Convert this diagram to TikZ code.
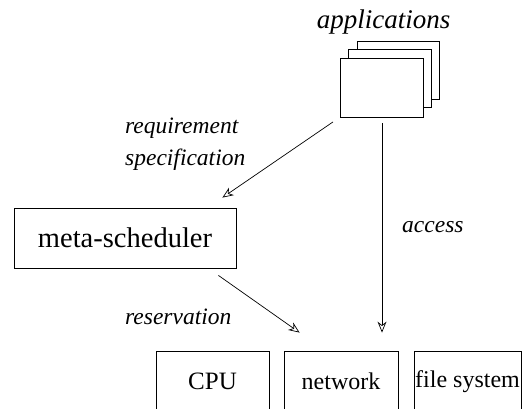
\documentclass[tikz,border=0pt]{standalone}
\usepackage{fontspec}
\setmainfont{Liberation Serif}
\usetikzlibrary{arrows.meta,calc}
\begin{document}
\begin{tikzpicture}[x=1pt,y=-1pt,
  box/.style={draw, line width=0.8pt, inner sep=0pt, fill=white},
  lab/.style={inner sep=0pt, font=\fontsize{23.5}{32}\selectfont\itshape, align=left},
  arr/.style={-{Stealth[open,length=11pt,width=9pt,inset=3.5pt]}, line width=0.7pt}]
\useasboundingbox (0,0) rectangle (522,408);
\clip (0,0) rectangle (522,408);
% applications stack
\node[box, minimum width=82pt, minimum height=58pt] (back) at (398,70) {};
\node[box, minimum width=83pt, minimum height=58pt] (mid) at (389.5,78) {};
\node[box, minimum width=83pt, minimum height=59pt] (front) at (381.5,87.5) {};
\node[inner sep=0pt, font=\fontsize{27}{32}\selectfont\itshape] (apps) at (383.5,22) {applications};
% meta-scheduler
\node[box, minimum width=222pt, minimum height=60pt, font=\fontsize{28.5}{32}\selectfont] (meta) at (125,238) {meta-scheduler};
% resources
\node[box, minimum width=113pt, minimum height=61pt, font=\fontsize{25}{28}\selectfont] (cpu) at (212.5,381.5) {CPU};
\node[box, minimum width=114pt, minimum height=61pt, font=\fontsize{24}{28}\selectfont] (net) at (341,381.5) {network};
\node[box, minimum width=107pt, minimum height=61pt, font=\fontsize{24}{28}\selectfont] (fs) at (467.5,381.5) {file system};
% labels
\node[lab, anchor=west] (req) at (125,144) {requirement\\specification};
\node[lab, anchor=west] (acc) at (402,227) {access};
\node[lab, anchor=west] (res) at (125,317) {reservation};
% connectors
\coordinate (reqT) at ($(meta.north east)+(-14,-10)$);
\draw[arr, shorten <=8pt] (front.south west) -- (reqT);
\coordinate (accT) at ($(net.north)+(41,-18)$);
\draw[arr, shorten <=6pt] (front.south -| accT) -- (accT);
\coordinate (resS) at ($(meta.south east)+(-18,7)$);
\coordinate (resT) at ($(net.north west)+(16,-18)$);
\draw[arr] (resS) -- (resT);
\end{tikzpicture}
\end{document}
